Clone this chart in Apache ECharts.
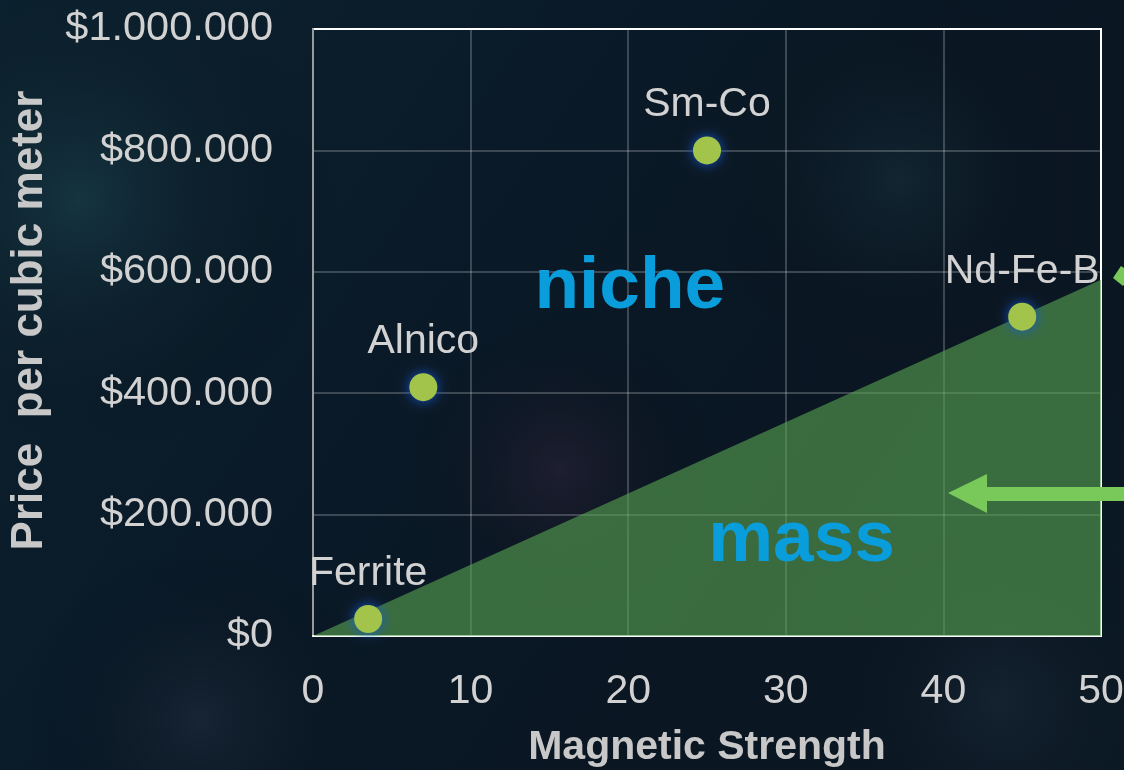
<!DOCTYPE html>
<html>
<head>
<meta charset="utf-8">
<script src="https://cdn.jsdelivr.net/npm/echarts@6/dist/echarts.min.js"></script>
<style>
html,body{margin:0;padding:0;width:1124px;height:770px;overflow:hidden;background:#08141f;}
#c{width:1124px;height:770px;}
</style>
</head>
<body>
<div id="c"></div>
<script>
// ---- data ----
var materials = ['Ferrite', 'Alnico', 'Sm-Co', 'Nd-Fe-B'];
var strength = [3.5, 7, 25, 45];
var price = [28000, 410000, 800000, 526000];
var massLine = [[0, 0], [50, 587000]];
var zoneNames = ['niche', 'mass'];
var zoneX = [20.1, 31.0];
var zoneY = [574000, 156000];
var xTicks = [0, 10, 20, 30, 40, 50];
var yTicks = [0, 200000, 400000, 600000, 800000, 1000000];

function money(v) {
  var s = String(Math.round(v));
  return '$' + s.replace(/\B(?=(\d{3})+(?!\d))/g, '.');
}

var chart = echarts.init(document.getElementById('c'));
var font = '"Liberation Sans", Arial, sans-serif';

var glow = function (cx, cy, r, color) {
  return {
    type: 'circle', silent: true, z: -10,
    shape: {cx: cx, cy: cy, r: r},
    style: {fill: {type: 'radial', x: 0.5, y: 0.5, r: 0.5,
      colorStops: [{offset: 0, color: color}, {offset: 1, color: 'rgba(0,0,0,0)'}]}}
  };
};

var option = {
  backgroundColor: {
    type: 'linear', x: 0, y: 0, x2: 1, y2: 1,
    colorStops: [
      {offset: 0, color: '#0c2230'},
      {offset: 0.35, color: '#0a1a28'},
      {offset: 0.7, color: '#0a1622'},
      {offset: 1, color: '#0b1a26'}
    ]
  },
  animation: false,
  grid: {left: 313, top: 29, width: 788, height: 607, show: true, containLabel: false,
    outerBoundsMode: 'none',
    borderColor: '#ffffff', borderWidth: 2, backgroundColor: 'rgba(0,0,0,0)'},
  xAxis: {
    type: 'value', min: 0, max: 50, interval: 10,
    name: 'Magnetic Strength', nameLocation: 'middle', nameGap: 91,
    nameTextStyle: {color: '#c8c8c8', fontSize: 41, fontWeight: 'bold', fontFamily: font},
    axisLine: {show: true, lineStyle: {color: '#ffffff', width: 2}},
    axisTick: {show: false},
    axisLabel: {color: '#d2d2d2', fontSize: 41, fontFamily: font, margin: 35,
      formatter: function (v) { return xTicks.indexOf(v) >= 0 ? String(v) : ''; }},
    splitLine: {show: true, lineStyle: {color: 'rgba(255,255,255,0.28)', width: 1.5}}
  },
  yAxis: {
    type: 'value', min: 0, max: 1000000, interval: 200000,
    name: 'Price  per cubic meter', nameLocation: 'middle', nameGap: 261,
    nameTextStyle: {color: '#c8c8c8', fontSize: 44, fontWeight: 'bold', fontFamily: font,
      padding: [0, 0, 0, 24]},
    axisLine: {show: true, lineStyle: {color: '#9a9a9a', width: 2}},
    axisTick: {show: false},
    axisLabel: {color: '#d2d2d2', fontSize: 41.5, fontFamily: font, margin: 40,
      formatter: function (v) { return yTicks.indexOf(v) >= 0 ? money(v) : ''; }},
    splitLine: {show: true, lineStyle: {color: 'rgba(255,255,255,0.28)', width: 1.5}}
  },
  graphic: [
    glow(80, 200, 260, 'rgba(40,90,100,0.35)'),
    glow(560, 470, 160, 'rgba(90,50,80,0.25)'),
    glow(900, 180, 200, 'rgba(40,80,90,0.25)'),
    glow(200, 720, 180, 'rgba(60,70,90,0.25)'),
    glow(1000, 700, 200, 'rgba(50,60,80,0.25)'),
    // horizontal arrow
    {type: 'polygon', z: 100, silent: true,
      shape: {points: [[1124, 487], [987, 487], [987, 474], [948, 493], [987, 513], [987, 501], [1124, 501]]},
      style: {fill: '#78c85a'}},
    // diagonal arrow tail (top right)
    {type: 'polygon', z: 100, silent: true,
      shape: {points: [[1113, 278], [1121, 266], [1132, 273], [1123, 286]]},
      style: {fill: '#78c85a'}}
  ],
  series: [
    {
      type: 'line', data: massLine, symbol: 'none', z: 1,
      lineStyle: {width: 0, color: 'rgba(0,0,0,0)'},
      areaStyle: {color: 'rgba(88,165,82,0.6)', origin: 'start', opacity: 1}
    },
    {
      type: 'scatter', z: 5,
      data: materials.map(function (m, i) { return {name: m, value: [strength[i], price[i]]}; }),
      symbolSize: 28,
      itemStyle: {color: '#a3c44a', opacity: 1, shadowColor: 'rgba(20,90,220,0.9)', shadowBlur: 12},
      label: {show: true, position: 'top', distance: 11, formatter: '{b}',
        color: '#d2d2d2', fontSize: 41, fontFamily: font}
    },
    {
      type: 'scatter', z: 6, symbolSize: 0, silent: true,
      itemStyle: {opacity: 1},
      data: zoneNames.map(function (n, i) { return {name: n, value: [zoneX[i], zoneY[i]]}; }),
      label: {show: true, position: 'inside', formatter: '{b}',
        color: '#0a9ddb', fontSize: 73, fontWeight: 'bold', fontFamily: font}
    }
  ]
};
chart.setOption(option);
</script>
</body>
</html>
